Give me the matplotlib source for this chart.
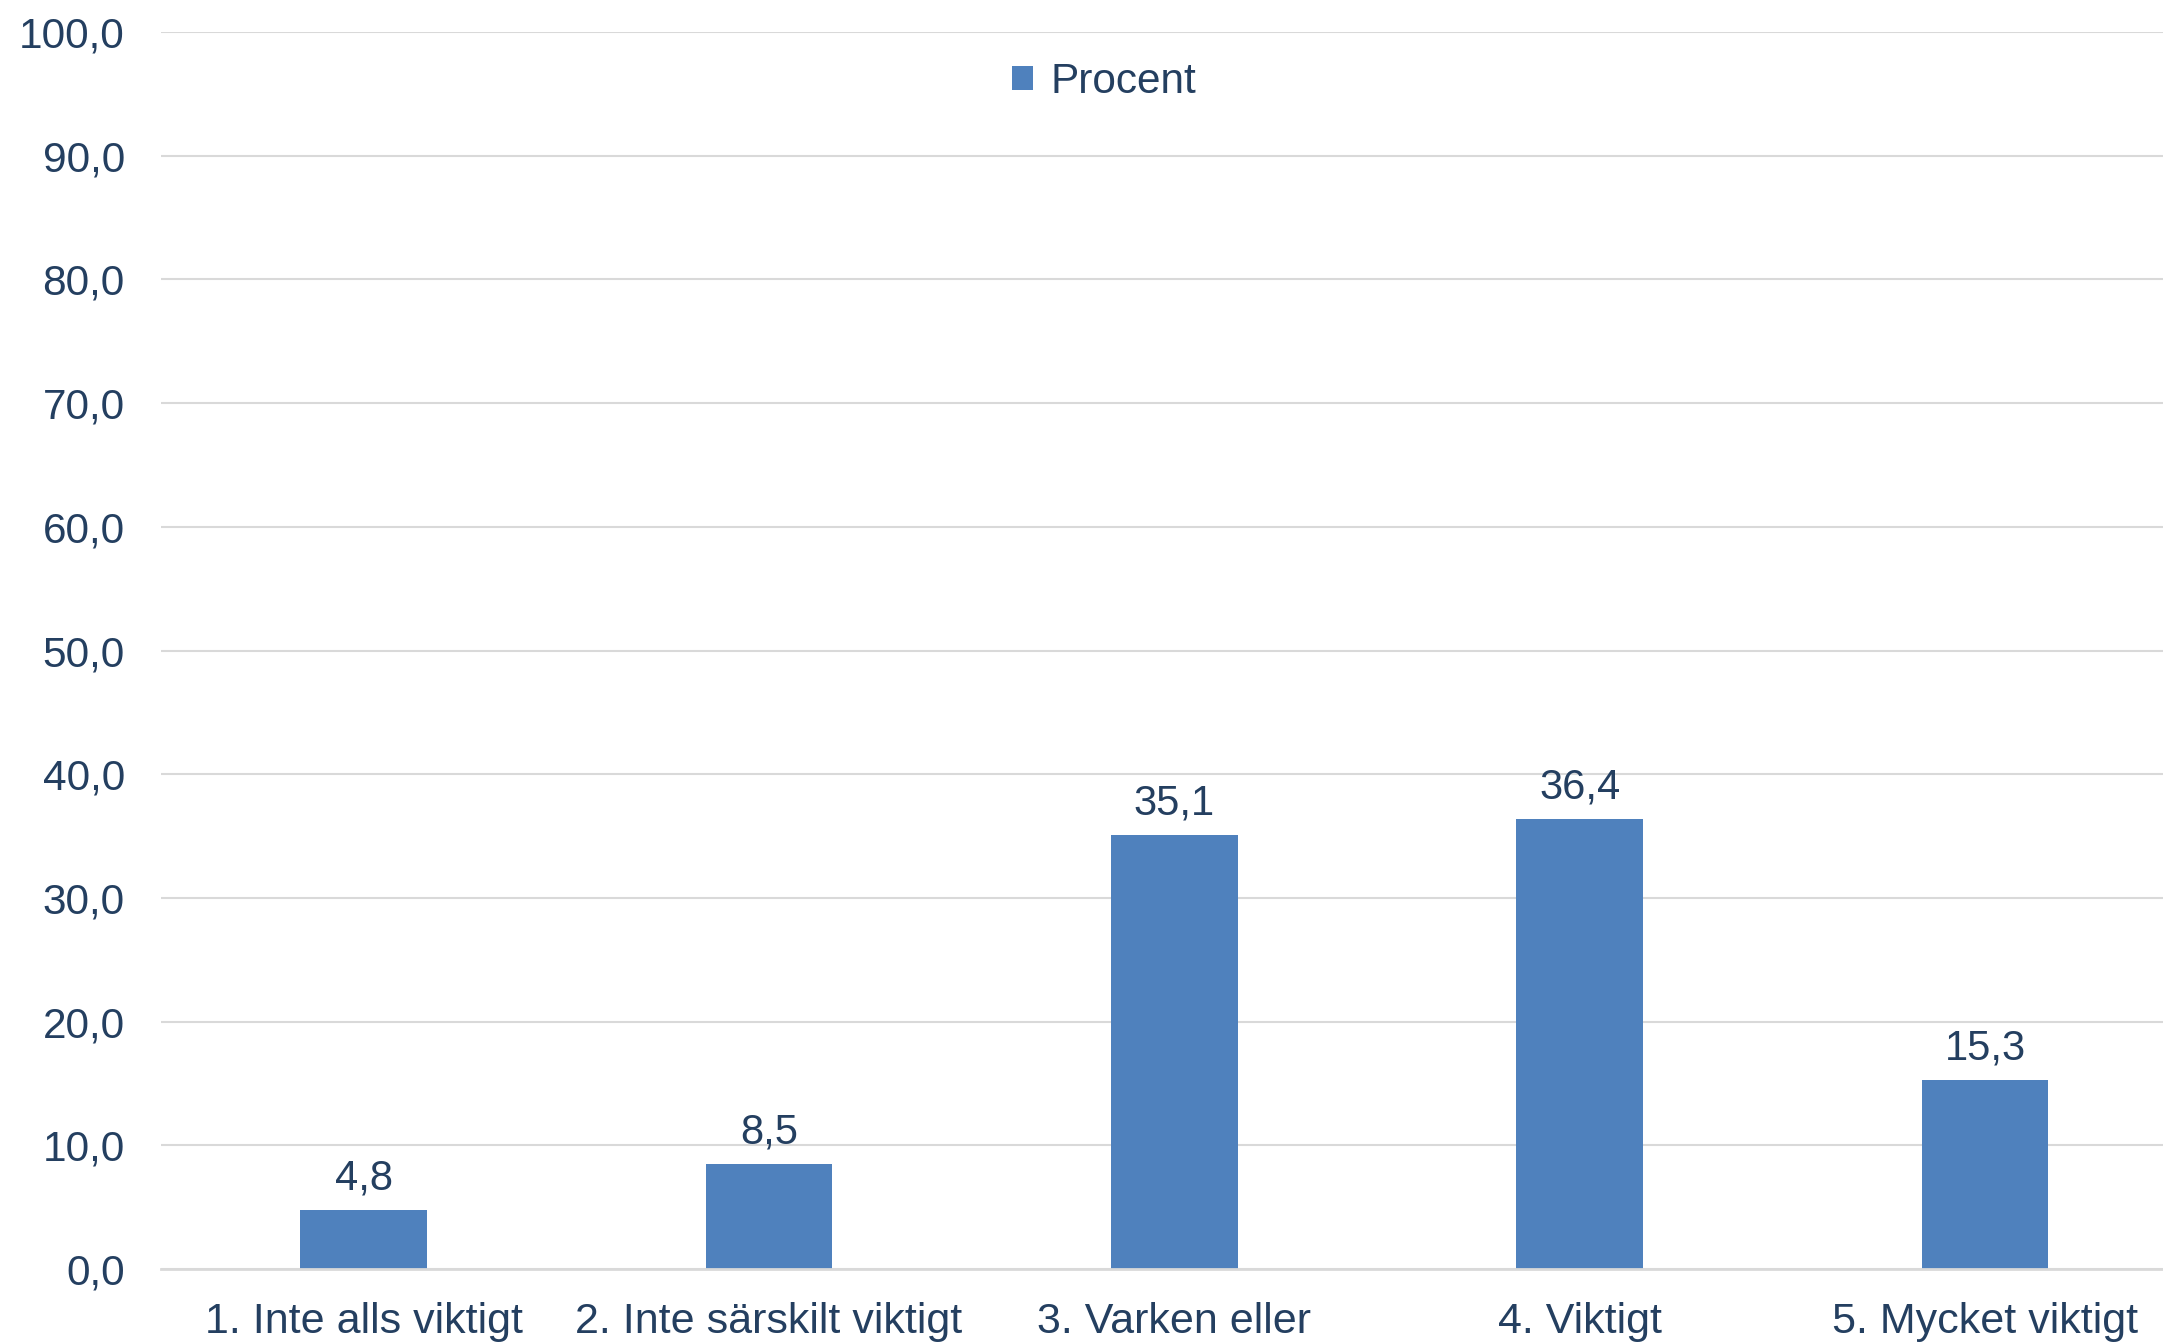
import matplotlib.pyplot as plt
from matplotlib.ticker import FuncFormatter, MultipleLocator

# --- data ---
categories = ["1. Inte alls viktigt", "2. Inte särskilt viktigt", "3. Varken eller",
              "4. Viktigt", "5. Mycket viktigt"]
procent = [4.8, 8.5, 35.1, 36.4, 15.3]

BAR = "#4F81BD"
TXT = "#243F60"
GRID = "#D9D9D9"

plt.rcParams["font.family"] = ["Liberation Sans", "DejaVu Sans"]

fig = plt.figure(figsize=(21.63, 13.43), dpi=100)
ax = fig.add_axes([0.0744, 0.0551, 0.937, 0.921])

x = range(len(categories))
bars = ax.bar(x, procent, width=0.313, color=BAR, label="Procent", zorder=3)

for xi, v in zip(x, procent):
    ax.annotate(f"{v:.1f}".replace(".", ","), (xi, v), xytext=(0, 8),
                textcoords="offset points", ha="center", va="bottom",
                fontsize=30, color=TXT)

ax.set_xlim(-0.5, 4.5)
ax.set_ylim(0, 100)
ax.yaxis.set_major_locator(MultipleLocator(10))
ax.yaxis.set_major_formatter(FuncFormatter(lambda v, p: f"{v:.1f}".replace(".", ",")))
ax.set_xticks(list(x))
ax.set_xticklabels(categories)

ax.grid(axis="y", color=GRID, lw=1.5, zorder=0)
for s in ["top", "right", "left"]:
    ax.spines[s].set_visible(False)
ax.spines["bottom"].set_color(GRID)
ax.spines["bottom"].set_linewidth(2)
ax.spines["bottom"].set_zorder(4)

ax.tick_params(axis="y", length=0, pad=26, labelsize=30.5, labelcolor=TXT)
ax.tick_params(axis="x", length=0, pad=24, labelsize=31, labelcolor=TXT)

fig.legend(loc="center", bbox_to_anchor=(1104 / 2163, 1 - 82 / 1343),
           frameon=False, fontsize=30.5, labelcolor=TXT,
           handlelength=0.5, handleheight=0.5, handletextpad=0.4)

plt.savefig("out.png", dpi=100)
